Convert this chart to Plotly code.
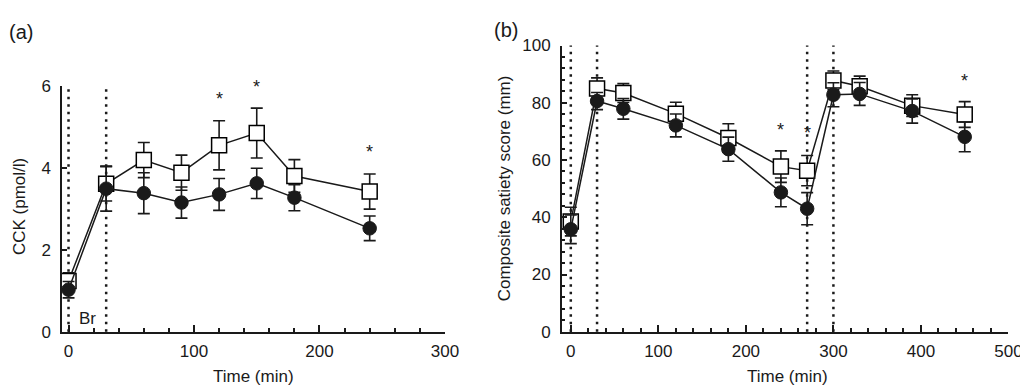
import plotly.graph_objects as go

# ---- Panel (a): CCK ----
time_a = [0, 30, 60, 90, 120, 150, 180, 240]
cck_open = [1.24, 3.62, 4.20, 3.89, 4.56, 4.86, 3.81, 3.43]
cck_open_err = [0.20, 0.42, 0.43, 0.43, 0.60, 0.61, 0.40, 0.43]
cck_filled = [1.03, 3.50, 3.39, 3.16, 3.36, 3.63, 3.28, 2.53]
cck_filled_err = [0.20, 0.55, 0.50, 0.38, 0.39, 0.37, 0.32, 0.30]
star_a_x = [120, 150, 240]
star_a_y = [5.52, 5.82, 4.22]
vlines_a = [0, 30]

# ---- Panel (b): composite satiety ----
time_b = [0, 30, 60, 120, 180, 240, 270, 300, 330, 390, 450]
sat_open = [38.5, 85.0, 83.4, 76.2, 67.7, 57.7, 56.3, 87.8, 85.8, 79.0, 75.9]
sat_open_err = [5.0, 3.7, 3.3, 4.0, 5.0, 5.5, 5.3, 3.3, 3.5, 3.8, 4.5]
sat_filled = [35.8, 80.6, 77.9, 72.1, 63.8, 48.7, 43.0, 82.8, 83.1, 77.1, 68.1]
sat_filled_err = [5.0, 3.0, 3.6, 4.0, 4.2, 5.0, 5.6, 4.2, 4.0, 4.2, 5.2]
star_b_x = [240, 270, 450]
star_b_y = [68.0, 67.0, 85.2]
vlines_b = [0, 30, 270, 300]

FONT = "Liberation Sans, Arial, sans-serif"
TXT = "#1a1a1a"

fig = go.Figure()


def add_series(x, y, err, xa, ya, open_marker):
    if open_marker:
        marker = dict(symbol="square", size=15, color="white",
                      line=dict(color="black", width=1.5))
    else:
        marker = dict(symbol="circle", size=13.5, color="#1a1a1a",
                      line=dict(color="#1a1a1a", width=1))
    fig.add_trace(go.Scatter(
        x=x, y=y, mode="lines+markers", xaxis=xa, yaxis=ya,
        line=dict(color="#1a1a1a", width=1.5), marker=marker,
        error_y=dict(type="data", array=err, visible=True,
                     color="#1a1a1a", thickness=1.6, width=6),
        showlegend=False, hoverinfo="skip", cliponaxis=False))


add_series(time_a, cck_open, cck_open_err, "x", "y", True)
add_series(time_a, cck_filled, cck_filled_err, "x", "y", False)
add_series(time_b, sat_open, sat_open_err, "x2", "y2", True)
add_series(time_b, sat_filled, sat_filled_err, "x2", "y2", False)

DOT = dict(color="#1a1a1a", width=2.5, dash="2.5px,5px")
shapes = []
for v in vlines_a:
    shapes.append(dict(type="line", xref="x", yref="y domain", x0=v, x1=v,
                       y0=0, y1=1, line=DOT, layer="below"))
for v in vlines_b:
    shapes.append(dict(type="line", xref="x2", yref="y2 domain", x0=v, x1=v,
                       y0=0, y1=1, line=DOT, layer="below"))


def ann(x, y, text, xref="paper", yref="paper", size=16, angle=0, yshift=0):
    return dict(x=x, y=y, xref=xref, yref=yref, text=text, showarrow=False,
                xanchor="center", yanchor="middle", textangle=angle, yshift=yshift,
                font=dict(family=FONT, size=size, color=TXT))


annotations = []
for sx, sy in zip(star_a_x, star_a_y):
    annotations.append(ann(sx, sy, "*", "x", "y", 18, yshift=7))
for sx, sy in zip(star_b_x, star_b_y):
    annotations.append(ann(sx, sy, "*", "x2", "y2", 18, yshift=7))

annotations += [
    ann(15, 0.33, "Br", "x", "y", 17),
    ann(13 / 1028, 1 - 16 / 388, "(a)", size=20),
    ann(505 / 1028, 1 - 14 / 388, "(b)", size=20),
    ann(249 / 1028, 1 - 378 / 388, "Time (min)", size=17),
    ann(790 / 1028, 1 - 378 / 388, "Time (min)", size=17),
    ann(11 / 1028, 1 - 199 / 388, "CCK (pmol/l)", size=17, angle=-90),
    ann(503 / 1028, 1 - 180 / 388, "Composite satiety score (mm)", size=17, angle=-90),
]

axis_common = dict(showline=True, linecolor="#1a1a1a", linewidth=2, ticks="inside",
                   tickcolor="#1a1a1a", tickwidth=1.5, showgrid=False, zeroline=False,
                   tickfont=dict(family=FONT, size=17, color=TXT), fixedrange=True)
minor_x = dict(dtick=20, tick0=0, ticks="inside", ticklen=4,
               tickcolor="#1a1a1a", tickwidth=1.5)

fig.update_layout(
    width=1028, height=388, margin=dict(l=0, r=0, t=0, b=0),
    paper_bgcolor="white", plot_bgcolor="white",
    xaxis=dict(domain=[55 / 1028, 443 / 1028], range=[-5, 300], anchor="y",
               tickvals=[0, 100, 200, 300], ticklen=7, ticklabelstandoff=3,
               minor=minor_x, **axis_common),
    yaxis=dict(domain=[1 - 331 / 388, 1 - 73 / 388], range=[0, 6], anchor="x",
               tickvals=[0, 2, 4, 6], ticklen=5, ticklabelstandoff=6, **axis_common),
    xaxis2=dict(domain=[561.7 / 1028, 1014.3 / 1028], range=[-10, 500], anchor="y2",
                tickvals=[0, 100, 200, 300, 400, 500], ticklen=7, ticklabelstandoff=3,
                minor=minor_x, **axis_common),
    yaxis2=dict(domain=[1 - 331 / 388, 1 - 30 / 388], range=[0, 100], anchor="x2",
                tickvals=[0, 20, 40, 60, 80, 100], ticklen=5, ticklabelstandoff=6,
                minor=dict(dtick=4, tick0=0, ticks="inside", ticklen=3,
                           tickcolor="#1a1a1a", tickwidth=1.5),
                **axis_common),
    shapes=shapes, annotations=annotations,
)

fig.write_html("out.html")
